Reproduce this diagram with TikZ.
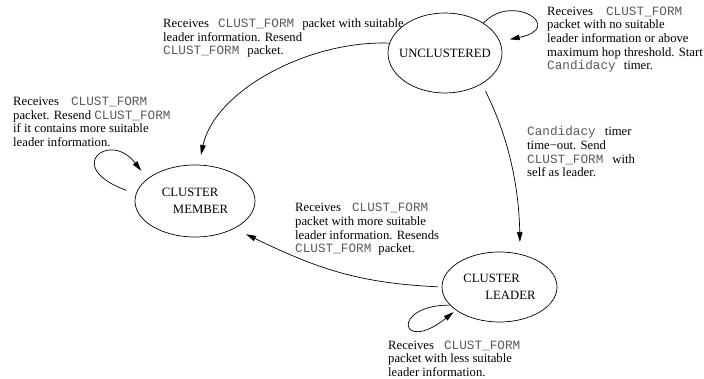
\documentclass[tikz,border=0pt]{standalone}
\usepackage{fontspec}
\setmainfont{Liberation Serif}
\setmonofont{Liberation Mono}
\usetikzlibrary{arrows.meta,shapes.geometric}
\newcommand{\cf}{\textcolor{black!65}{\texttt{CLUST\_FORM}}}
\newcommand{\cand}{\textcolor{black!65}{\texttt{Candidacy}}}
\begin{document}
\begin{tikzpicture}[x=1pt,y=-1pt,
  txt/.style={font=\fontsize{12.7}{13.7}\selectfont, align=left, inner sep=0pt, anchor=base west},
  state/.style={ellipse, draw, line width=0.7pt, inner sep=0pt, font=\fontsize{12.7}{16.5}\selectfont, align=left},
  edge/.style={line width=0.7pt, -{Triangle[length=10pt,width=5.5pt]}}
]
\useasboundingbox (0,0) rectangle (704,379);

\node[state, minimum width=114pt, minimum height=80pt] (unc) at (445,53) {\makebox[60pt]{UNCLUSTERED}};
\node[state, minimum width=120pt, minimum height=72pt] (mem) at (195,201) {CLUSTER\\\hspace*{11pt}MEMBER};
\node[state, minimum width=115pt, minimum height=70pt] (lead) at (499.5,287) {CLUSTER\\\hspace*{22pt}LEADER};

% anchor base west = baseline of the last line
\node[txt] (la) at (163,55) {Receives\hspace{9pt}\cf\hspace{8pt}packet with suitable\\leader information. Resend\\\cf\hspace{8pt}packet.};
\node[txt] (lb) at (547,70) {Receives\hspace{13pt}\cf\\packet with no suitable\\leader information or above\\maximum hop threshold. Start\\\cand\hspace{8pt}timer.};
\node[txt] (lc) at (13,146.5) {Receives\hspace{12pt}\cf\\packet. Resend \cf\\if it contains more suitable\\leader information.};
\node[txt] (ld) at (527,176.8) {\cand\hspace{9pt}timer\\time−out. Send\\\cf\hspace{9pt}with\\self as leader.};
\node[txt] (le) at (295,252.8) {Receives\hspace{11pt}\cf\\packet with more suitable\\leader information. Resends\\\cf\hspace{7pt}packet.};
\node[txt] (lf) at (388,376.5) {Receives\hspace{10pt}\cf\\packet with less suitable\\leader information.};

\draw[edge, shorten >=10pt] (unc.170) .. controls (310,40) and (215,90) .. (mem.84);
\draw[edge, shorten >=10pt] (unc.38) .. controls (513,-8) and (566,28) .. (unc.12);
\draw[edge, shorten <=8pt, shorten >=12pt] (unc.-40) .. controls (510,140) and (519,190) .. (lead.58);
\draw[edge, shorten <=4pt, shorten >=13pt] (lead.180) .. controls (360,283) and (320,270) .. (mem.-35);
\draw[edge, shorten <=10pt, shorten >=10pt] (mem.173) .. controls (62,167) and (110,130) .. (mem.155);
\draw[edge, shorten >=3pt] (lead.200) .. controls (390,305) and (400,355) .. (lead.208);
\end{tikzpicture}
\end{document}
